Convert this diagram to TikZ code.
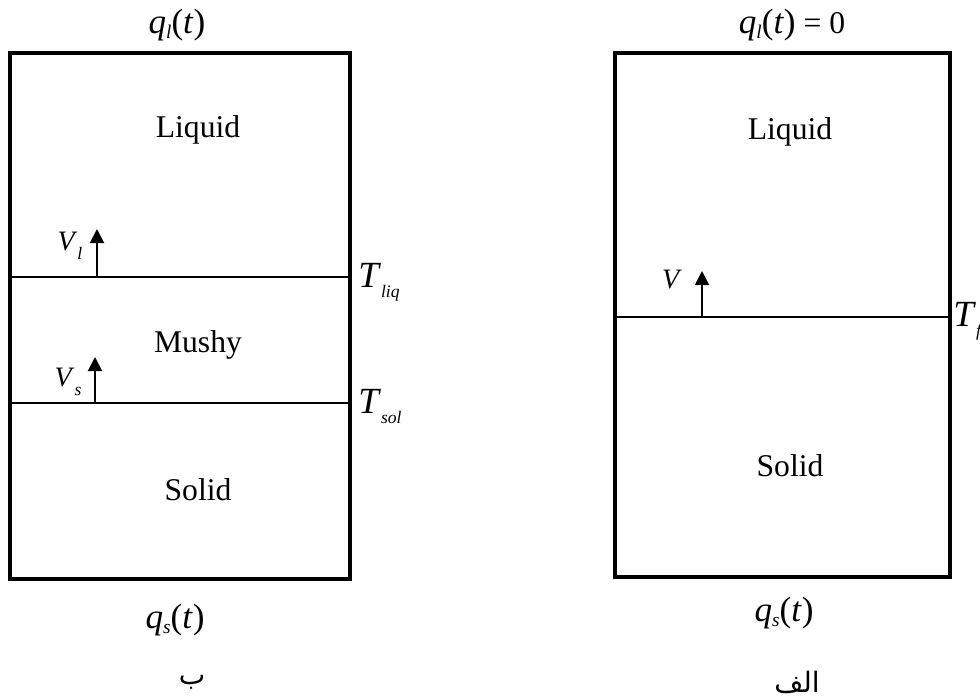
\documentclass[tikz,border=0pt]{standalone}
\usepackage{fontspec}
\setmainfont{Liberation Serif}
\newfontfamily\arabicfont[Script=Arabic]{DejaVu Sans}
\TeXXeTstate=1
\usetikzlibrary{arrows.meta}

\newcommand{\qflux}[1]{{\fontsize{20}{22}\selectfont\textit{q}\raisebox{-3pt}{\fontsize{11}{12}\selectfont\textit{#1}}(\textit{t})}}
\newcommand{\tlab}[1]{{\fontsize{21}{24}\selectfont\textit{T}}\raisebox{-6pt}{\fontsize{10}{12}\selectfont\textit{#1}}}
\newcommand{\vlab}[1]{{\fontsize{16}{18}\selectfont\textit{V}}\raisebox{-5pt}{\fontsize{10}{12}\selectfont\textit{#1}}}

\begin{document}
\begin{tikzpicture}[x=0.02cm, y=-0.02cm,
    every node/.style={font=\fontsize{18}{20}\selectfont, inner sep=0pt},
    wall/.style={line width=2.8pt},
    front/.style={line width=1.1pt},
    speed/.style={line width=1.1pt, -{Triangle[width=8pt,length=8pt]}}]
  \useasboundingbox (0,0) rectangle (980,698);

  % b: liquid, mushy and solid
  \draw[wall] (10,53) rectangle (350,579);
  \draw[front] (10,277) -- (350,277);
  \draw[front] (10,403) -- (350,403);
  \node (liqb) at (198,130) {Liquid};
  \node (mushb) at (198,345) {Mushy};
  \node (solb) at (198,490) {Solid};
  \node (qtopb) at (177,25) {\qflux{l}};
  \node (qbotb) at (175,620) {\qflux{s}};
  \node[anchor=base west] (tliq) at (358,287) {\tlab{liq}};
  \node[anchor=base west] (tsol) at (358,413) {\tlab{sol}};
  \coordinate (vlfoot) at (97,277);
  \coordinate (vlhead) at (97,229);
  \draw[speed] (vlfoot) -- (vlhead);
  \node (vl) at (70,246) {\vlab{l}};
  \coordinate (vsfoot) at (95,403);
  \coordinate (vshead) at (95,357);
  \draw[speed] (vsfoot) -- (vshead);
  \node (vs) at (68,382) {\vlab{s}};
  \node (capb) at (192,682) {\fontsize{16}{18}\arabicfont\beginR ب\endR};

  % a: liquid and solid
  \draw[wall] (615,53) rectangle (950,577);
  \draw[front] (615,317) -- (950,317);
  \node (liqa) at (790,132) {Liquid};
  \node (sola) at (790,466) {Solid};
  \node (qtopa) at (792,25) {\qflux{l} = 0};
  \node (qbota) at (784,613) {\qflux{s}};
  \node[anchor=base west] (tf) at (953,326) {\tlab{f}};
  \coordinate (vfoot) at (702,317);
  \coordinate (vhead) at (702,271);
  \draw[speed] (vfoot) -- (vhead);
  \node (va) at (672,284) {\vlab{}};
  \node (capa) at (797,682) {\fontsize{16}{18}\arabicfont\beginR الف\endR};
\end{tikzpicture}
\end{document}
